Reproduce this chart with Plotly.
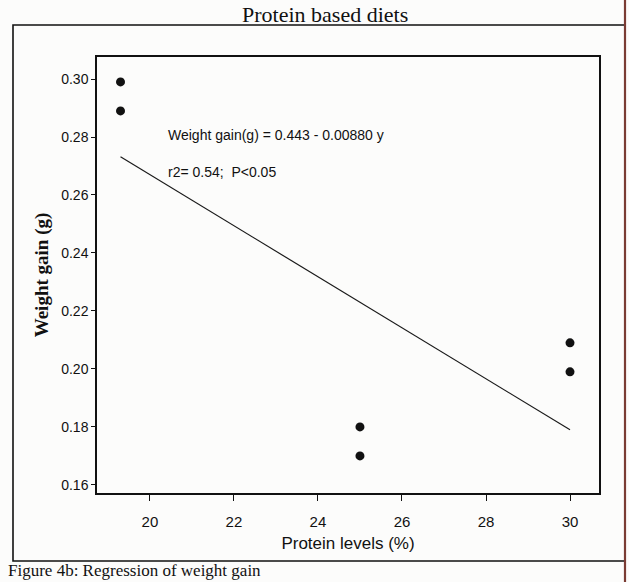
import plotly.graph_objects as go

# Weight gain (g) of fish fed protein-based diets at three protein levels (%)
protein_levels = [19.3, 19.3, 25, 25, 30, 30]
weight_gain = [0.299, 0.289, 0.180, 0.170, 0.209, 0.199]

# Fitted regression: weight gain = intercept + slope * protein level
intercept = 0.443
slope = -0.00880
fit_x = [19.3, 30]
fit_y = [intercept + slope * x for x in fit_x]

x_ticks = [20, 22, 24, 26, 28, 30]
y_ticks = [0.16, 0.18, 0.20, 0.22, 0.24, 0.26, 0.28, 0.30]

W, H = 629, 582
L, R, T, B = 97, 599, 57, 493  # plot area edges in pixels


def px(x):
    return (x - L) / (R - L)


def py(y):
    return (B - y) / (B - T)


SANS = "Liberation Sans, Arial, sans-serif"
SERIF = "Liberation Serif, Times New Roman, serif"
INK = "#111111"

fig = go.Figure()

fig.add_trace(go.Scatter(
    x=fit_x, y=fit_y, mode="lines",
    line=dict(color="#1a1a1a", width=1.2),
    showlegend=False, hoverinfo="skip",
))

fig.add_trace(go.Scatter(
    x=protein_levels, y=weight_gain, mode="markers",
    marker=dict(color=INK, size=9, symbol="circle"),
    showlegend=False,
))

# Outer frame around the panel; the right-hand border is dark red-brown
frame_shapes = [
    dict(type="rect", xref="paper", yref="paper",
         x0=px(13), x1=px(625), y0=py(561), y1=py(25),
         line=dict(color=INK, width=1.6), fillcolor="rgba(0,0,0,0)",
         layer="below"),
    dict(type="line", xref="paper", yref="paper",
         x0=px(625), x1=px(625), y0=py(0), y1=py(582),
         line=dict(color="#7a3b33", width=2.2)),
]

annotations = [
    dict(text="Weight gain(g) = 0.443 - 0.00880 y", xref="paper", yref="paper",
         x=px(166), y=py(135), xanchor="left", yanchor="middle", showarrow=False,
         font=dict(family=SANS, size=14, color=INK)),
    dict(text="r2= 0.54;  P<0.05", xref="paper", yref="paper",
         x=px(166), y=py(172), xanchor="left", yanchor="middle", showarrow=False,
         font=dict(family=SANS, size=14, color=INK)),
    dict(text="Protein based diets", xref="paper", yref="paper",
         x=px(325), y=py(0), xanchor="center", yanchor="top", showarrow=False,
         font=dict(family=SERIF, size=22, color=INK)),
    dict(text="Figure 4b: Regression of weight gain", xref="paper", yref="paper",
         x=px(6), y=py(582), xanchor="left", yanchor="bottom", showarrow=False,
         font=dict(family=SERIF, size=17, color=INK)),
]

fig.update_layout(
    width=W, height=H,
    margin=dict(l=L, r=W - R, t=T, b=H - B),
    paper_bgcolor="#fcfcfb", plot_bgcolor="#fcfcfb",
    shapes=frame_shapes, annotations=annotations,
    xaxis=dict(
        range=[18.74, 30.69], tickvals=x_ticks, ticktext=[str(v) for v in x_ticks],
        showgrid=False, zeroline=False, showline=True, mirror=True,
        linecolor=INK, linewidth=1.5, ticks="outside", ticklen=6,
        tickcolor=INK, tickwidth=1, ticklabelstandoff=8,
        tickfont=dict(family=SANS, size=15, color=INK),
        title=dict(text="Protein levels (%)", standoff=8,
                   font=dict(family=SANS, size=17, color=INK)),
    ),
    yaxis=dict(
        range=[0.1572, 0.3076], tickvals=y_ticks, ticktext=[f"{v:.2f}" for v in y_ticks],
        showgrid=False, zeroline=False, showline=True, mirror=True,
        linecolor=INK, linewidth=1.5, ticks="outside", ticklen=4,
        tickcolor=INK, tickwidth=1,
        tickfont=dict(family=SANS, size=14, color=INK),
        title=dict(text="<b>Weight gain (g)</b>", standoff=8,
                   font=dict(family=SERIF, size=19, color=INK)),
    ),
)

fig.write_html("out.html")
